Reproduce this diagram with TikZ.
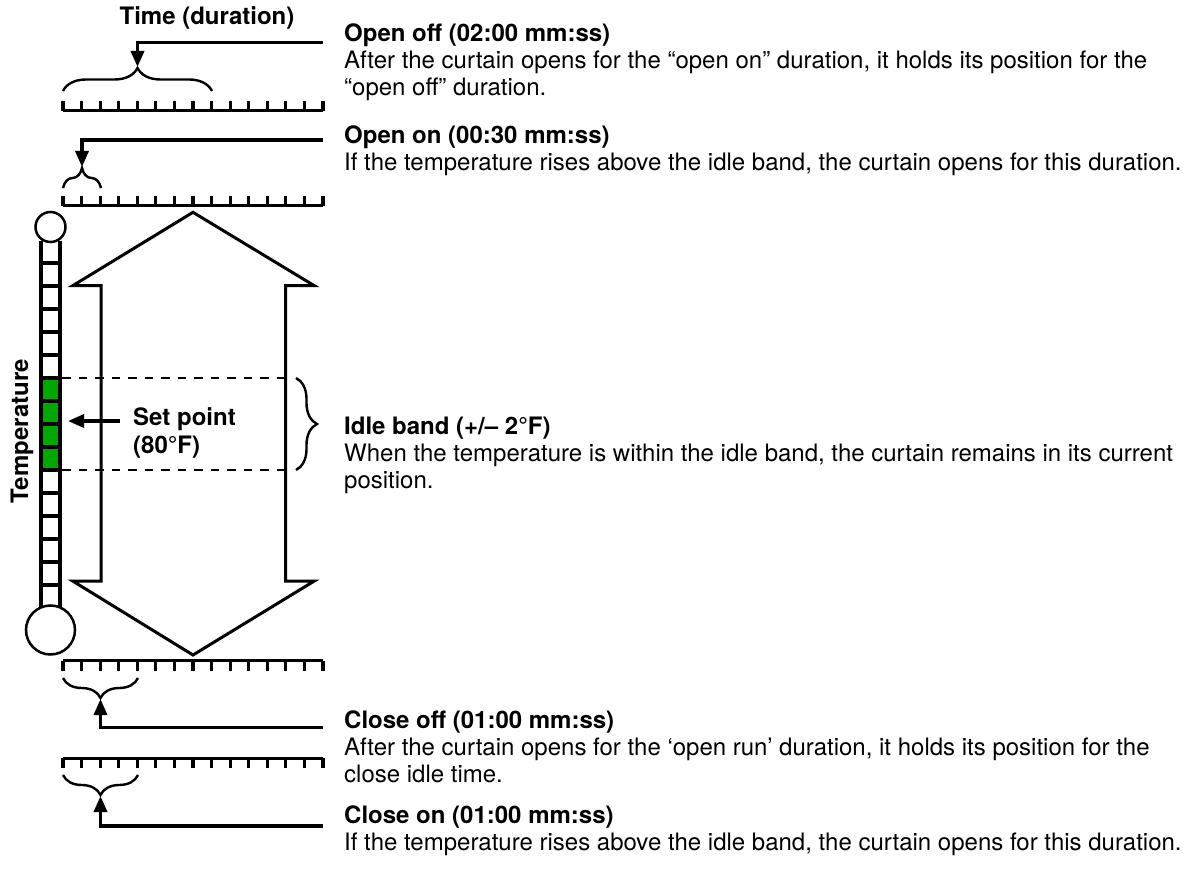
\documentclass[tikz,border=0pt]{standalone}
\usepackage{fontspec}
\setmainfont{TeX Gyre Heros}
\usetikzlibrary{arrows.meta,decorations.pathreplacing}
\definecolor{thermgreen}{RGB}{0,168,0}
\begin{document}
\begin{tikzpicture}[x=1pt,y=-1pt,
  txt/.style={anchor=base west, inner sep=0pt, font=\fontsize{24}{27}\selectfont},
  lbl/.style={inner sep=0pt, font=\fontsize{24}{28}\selectfont\bfseries},
  conn/.style={line width=3.5pt, -{Triangle[length=16pt,width=13pt]}},
  rulerline/.style={line width=3.5pt},
  tickline/.style={line width=3.2pt},
  tbrace/.style={decorate, decoration={brace, amplitude=#1}, line width=2.4pt},
  outline/.style={line width=3pt, line join=miter},
  tube/.style={line width=3.5pt},
  bandline/.style={line width=2.8pt, dash pattern=on 8.5pt off 8pt}
]
\useasboundingbox (0,0) rectangle (1197,869);

% ---- titles
\node[lbl, anchor=base] (timeT) at (207,25) {Time (duration)};
\node[lbl, anchor=base, rotate=90] (tempT) at (28,431) {Temperature};

% ---- rulers
\draw[rulerline] (63,110.7) -- (323,110.7);
\foreach \i in {0,...,14} \draw[tickline] ({63+\i*18.571},110.7) -- ++(0,-10);
\draw[rulerline] (63,205.7) -- (323,205.7);
\foreach \i in {0,...,14} \draw[tickline] ({63+\i*18.571},205.7) -- ++(0,-10);
\draw[rulerline] (63,660.7) -- (323,660.7);
\foreach \i in {0,...,14} \draw[tickline] ({63+\i*18.571},660.7) -- ++(0,10);
\draw[rulerline] (63,758.3) -- (323,758.3);
\foreach \i in {0,...,14} \draw[tickline] ({63+\i*18.571},758.3) -- ++(0,10);

% ---- braces
\draw[tbrace=23pt] (63,91) -- (212,91);
\draw[tbrace=20pt] (63,188) -- (101,188);
\draw[tbrace=20pt] (138,678) -- (63,678);
\draw[tbrace=20pt] (138,775) -- (63,775);
\draw[tbrace=21pt] (296,378) -- (296,470);

\coordinate (b1tip) at (137.5,67);
\coordinate (b2tip) at (82,167);
\coordinate (b3tip) at (100.5,699);
\coordinate (b4tip) at (100.5,796);
\coordinate (c1) at (323,42.3);
\coordinate (c2) at (323,140);
\coordinate (c3) at (323,727.7);
\coordinate (c4) at (323,826);

\draw[conn] (c1) -| (b1tip);
\draw[conn] (c2) -| (b2tip);
\draw[conn] (c3) -| (b3tip);
\draw[conn] (c4) -| (b4tip);

% ---- thermometer
\fill[thermgreen] (41,378) rectangle (60,470);
\draw[tube] (41,241) -- (41,607);
\draw[tube] (60,241) -- (60,607);
\foreach \k in {1,...,15} \draw[tube] (41,{240+23*\k}) -- (60,{240+23*\k});
\draw[line width=2.5pt, fill=white] (50.5,227) circle[radius=15];
\draw[line width=2.5pt, fill=white] (50.5,630) circle[radius=24.5];

% ---- idle band dashed lines
\draw[bandline] (62,378) -- (286,378);
\draw[bandline] (62,470) -- (286,470);

% ---- big double arrow
\draw[outline] (193,212.3) -- (314.3,285.7) -- (285.7,285.7) -- (285.7,581)
  -- (314.3,581) -- (193,655) -- (72.7,581) -- (101,581) -- (101,285.7)
  -- (72.7,285.7) -- cycle;

% ---- set point
\coordinate (spA) at (120,421);
\coordinate (spT) at (68,421);
\draw[conn] (spA) -- (spT);
\node[lbl, anchor=base west] (sp) at (133,425)
  {\begin{tabular}[t]{@{}l@{}}Set point\\(80°F)\end{tabular}};

% ---- text blocks
\node[txt] (t1) at (344,41.7) {\begin{tabular}[t]{@{}l@{}}\textbf{Open off (02:00 mm:ss)}\\
After the curtain opens for the “open on” duration, it holds its position for the\\
“open off” duration.\end{tabular}};
\node[txt] (t2) at (344,143.3) {\begin{tabular}[t]{@{}l@{}}\textbf{Open on (00:30 mm:ss)}\\
If the temperature rises above the idle band, the curtain opens for this duration.\end{tabular}};
\node[txt] (t3) at (344,434.3) {\begin{tabular}[t]{@{}l@{}}\textbf{Idle band (+/– 2°F)}\\
When the temperature is within the idle band, the curtain remains in its current\\
position.\end{tabular}};
\node[txt] (t4) at (344,728.3) {\begin{tabular}[t]{@{}l@{}}\textbf{Close off (01:00 mm:ss)}\\
After the curtain opens for the ‘open run’ duration, it holds its position for the\\
close idle time.\end{tabular}};
\node[txt] (t5) at (344,823.3) {\begin{tabular}[t]{@{}l@{}}\textbf{Close on (01:00 mm:ss)}\\
If the temperature rises above the idle band, the curtain opens for this duration.\end{tabular}};
\end{tikzpicture}
\end{document}
